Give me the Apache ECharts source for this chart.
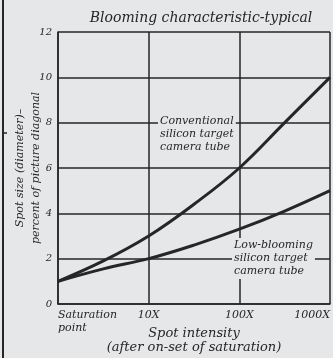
<!DOCTYPE html>
<html>
<head>
<meta charset="utf-8">
<script src="https://cdn.jsdelivr.net/npm/echarts@6/dist/echarts.min.js"></script>
<style>
  html, body { margin: 0; padding: 0; background: #e5e7e9; }
  #chart { width: 333px; height: 358px; }
</style>
</head>
<body>
<div id="chart"></div>
<script>
// x is decades above saturation: 0 = saturation point, 1 = 10X, 2 = 100X, 3 = 1000X
const xTicks = ["Saturation\npoint", "10X", "100X", "1000X"];
const xPos = [0, 0.5, 1, 1.5, 2, 2.5, 3];
const conventional = [1.0, 1.9, 3.0, 4.4, 6.0, 8.0, 10.0];
const lowBlooming = [1.0, 1.55, 2.0, 2.6, 3.3, 4.1, 5.0];

const ink = "#262626";
const font = "DejaVu Serif";

const chart = echarts.init(document.getElementById("chart"));

chart.setOption({
  backgroundColor: "#e5e7e9",
  animation: false,
  title: {
    text: "Blooming characteristic-typical",
    left: 196,
    top: 6,
    textAlign: "center",
    textStyle: { color: ink, fontFamily: font, fontStyle: "italic", fontWeight: "normal", fontSize: 14 },
  },
  grid: { left: 58, right: 3, top: 32, bottom: 54, containLabel: false, outerBoundsMode: "none" },
  xAxis: {
    type: "value",
    min: 0,
    max: 3,
    interval: 1,
    name: "Spot intensity\n(after on-set of saturation)",
    nameLocation: "middle",
    nameMoveOverlap: false,
    nameGap: 23,
    nameTextStyle: { color: ink, fontFamily: font, fontStyle: "italic", fontSize: 13, lineHeight: 14 },
    axisLine: { lineStyle: { color: ink, width: 1.5 } },
    axisTick: { show: false },
    splitLine: { lineStyle: { color: ink, width: 1.5 } },
    axisLabel: {
      color: ink,
      fontFamily: font,
      fontStyle: "italic",
      fontSize: 11,
      margin: 5,
      lineHeight: 13,
      alignMinLabel: "left",
      alignMaxLabel: "right",
      formatter: (v) => xTicks[Math.round(v)],
    },
  },
  yAxis: {
    type: "value",
    min: 0,
    max: 12,
    interval: 2,
    name: "Spot size (diameter)–\npercent of picture diagonal",
    nameLocation: "middle",
    nameMoveOverlap: false,
    nameGap: 14,
    nameTextStyle: { color: ink, fontFamily: font, fontStyle: "italic", fontSize: 11, lineHeight: 16 },
    axisLine: { show: true, lineStyle: { color: ink, width: 1.5 } },
    axisTick: { show: false },
    splitLine: { lineStyle: { color: ink, width: 1.5 } },
    axisLabel: { color: ink, fontFamily: font, fontStyle: "italic", fontSize: 10, margin: 6 },
  },
  series: [
    {
      name: "Conventional silicon target camera tube",
      type: "line",
      smooth: 0.4,
      symbol: "none",
      data: xPos.map((x, i) => [x, conventional[i]]),
      lineStyle: { color: ink, width: 3 },
    },
    {
      name: "Low-blooming silicon target camera tube",
      type: "line",
      smooth: 0.4,
      symbol: "none",
      data: xPos.map((x, i) => [x, lowBlooming[i]]),
      lineStyle: { color: ink, width: 3 },
    },
  ],
  graphic: [
    {
      type: "line",
      shape: { x1: 3, y1: 0, x2: 3, y2: 358 },
      style: { stroke: ink, lineWidth: 2 },
    },
    {
      type: "line",
      shape: { x1: 3, y1: 133, x2: 7, y2: 133 },
      style: { stroke: ink, lineWidth: 1.5 },
    },
    {
      type: "text",
      left: 158,
      top: 114,
      z: 10,
      style: {
        text: "Conventional\nsilicon target\ncamera tube",
        fill: ink,
        font: "italic 11px 'DejaVu Serif'",
        lineHeight: 13,
        backgroundColor: "#e5e7e9",
        padding: [1, 2],
      },
    },
    {
      type: "text",
      left: 232,
      top: 238,
      z: 10,
      style: {
        text: "Low-blooming\nsilicon target\ncamera tube",
        fill: ink,
        font: "italic 11px 'DejaVu Serif'",
        lineHeight: 13,
        backgroundColor: "#e5e7e9",
        padding: [1, 2],
      },
    },
  ],
});
</script>
</body>
</html>
